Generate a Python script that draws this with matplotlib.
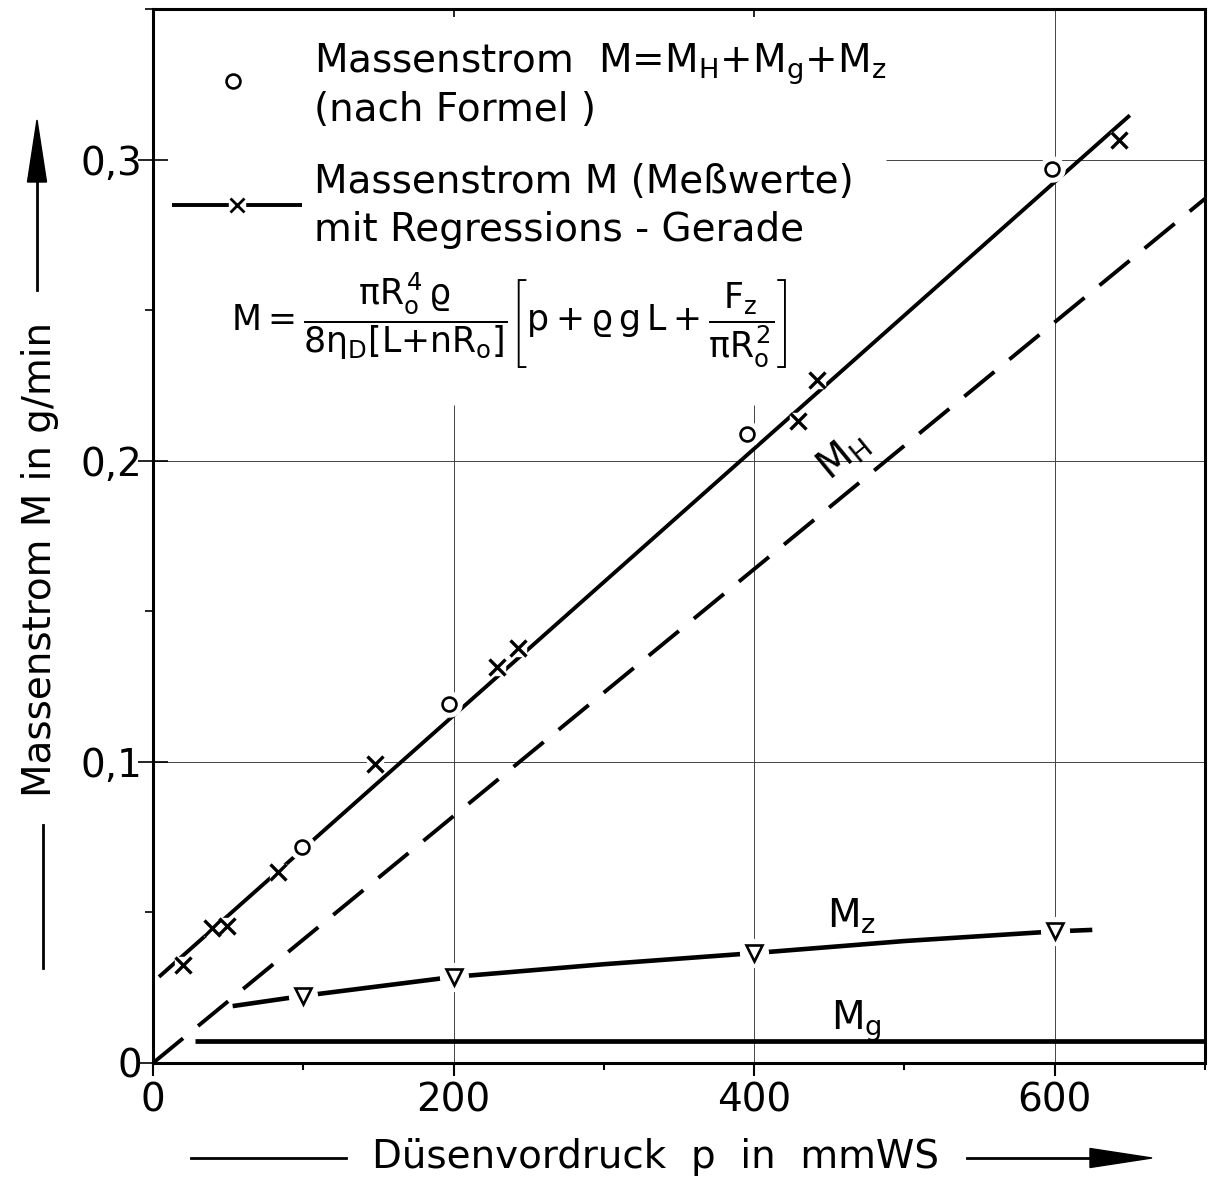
import matplotlib
matplotlib.use('Agg')
import matplotlib.pyplot as plt
from matplotlib.patches import Polygon
from matplotlib.ticker import MultipleLocator

plt.rcParams['font.family'] = ['DejaVu Sans']
plt.rcParams['mathtext.fontset'] = 'custom'
plt.rcParams['mathtext.rm'] = 'DejaVu Sans'
plt.rcParams['mathtext.it'] = 'DejaVu Sans'
plt.rcParams['mathtext.bf'] = 'DejaVu Sans'

# ---------------- data ----------------
meas_x = [20, 39, 49, 83, 148, 229, 243, 429, 442, 643]
meas_y = [0.0326, 0.0449, 0.0455, 0.0635, 0.0993, 0.1316, 0.1379, 0.2133, 0.2269, 0.3066]
formula_x = [99, 197, 395, 598]
formula_y = [0.0718, 0.1193, 0.2090, 0.2970]
regr_x = [4, 650]
regr_y = [0.0286, 0.3147]
mh_x = [0, 700]
mh_y = [0.0, 0.287]
mz_x = [100, 200, 400, 600]
mz_y = [0.0223, 0.0286, 0.0365, 0.0437]
mz_curve_x = [53, 100, 200, 300, 400, 500, 600]
mz_curve_y = [0.0189, 0.0223, 0.0286, 0.0328, 0.0365, 0.0405, 0.0437]
mz_ext_x = [600, 625]
mz_ext_y = [0.0437, 0.0442]
mg_x = [28, 700]
mg_y = [0.0073, 0.0073]

xticks = [0, 200, 400, 600]
xtick_labels = ['0', '200', '400', '600']
yticks = [0, 0.1, 0.2, 0.3]
ytick_labels = ['0', '0,1', '0,2', '0,3']

W, H = 1226, 1183
fig = plt.figure(figsize=(W / 100, H / 100), dpi=100)
ax = fig.add_axes([153 / W, 1 - 1063 / H, (1205 - 153) / W, (1063 - 9) / H])
ax.set_xlim(0, 700)
ax.set_ylim(0, 0.35)

FS = 28
lw_line = 2.8

# grid lines (partly interrupted like in the original)
gcol = '#444444'
ax.vlines([200, 400], 0, 0.2186, color=gcol, lw=0.7, zorder=1)
ax.vlines([600], 0, 0.35, color=gcol, lw=0.7, zorder=1)
ax.hlines([0.1, 0.2], 0, 700, color=gcol, lw=0.7, zorder=1)
ax.hlines([0.3], 488, 700, color=gcol, lw=0.7, zorder=1)

# regression line with measurements
ax.plot(regr_x, regr_y, color='black', lw=lw_line, zorder=2, solid_capstyle='butt')
# M_H dashed
ax.plot(mh_x, mh_y, color='black', lw=lw_line, dashes=(10, 5), zorder=2)
# M_z curve
ax.plot(mz_curve_x, mz_curve_y, color='black', lw=lw_line + 0.5, zorder=2, solid_capstyle='butt')
ax.plot(mz_ext_x, mz_ext_y, color='black', lw=lw_line + 0.5, zorder=2, solid_capstyle='butt')
# M_g
ax.plot(mg_x, mg_y, color='black', lw=3.4, zorder=2, solid_capstyle='butt')

# white halos to break lines around markers
ax.plot(meas_x, meas_y, ls='none', marker='s', ms=12, mfc='white', mec='white', zorder=3)
ax.plot(formula_x, formula_y, ls='none', marker='o', ms=18, mfc='white', mec='white', zorder=3)
ax.plot(mz_x, mz_y, ls='none', marker='o', ms=20, mfc='white', mec='white', zorder=3)
# markers
ax.plot(meas_x, meas_y, ls='none', marker='x', ms=11, mew=2.4, color='black', zorder=4)
ax.plot(formula_x, formula_y, ls='none', marker='o', ms=10, mew=1.9, mfc='white', mec='black', zorder=4)
ax.plot(mz_x, mz_y, ls='none', marker='v', ms=12, mew=1.9, mfc='white', mec='black', zorder=4)

# curve labels
ax.text(459, 0.2015, r'$M_H$', fontsize=FS, rotation=39.5, ha='center', va='center',
        rotation_mode='anchor', zorder=5)
ax.text(465, 0.0449, r'$M_z$', fontsize=FS, ha='center', va='baseline', zorder=5)
ax.text(468, 0.0110, r'$M_g$', fontsize=FS, ha='center', va='baseline', zorder=5)

# legend (drawn inside the plot like the original)
ax.plot([53], [0.326], ls='none', marker='o', ms=10, mew=1.9, mfc='white', mec='black', zorder=4)
ax.text(107, 0.3316, r'Massenstrom  M=M$_H$+M$_g$+M$_z$', fontsize=FS, ha='left', va='center')
ax.text(107, 0.3166, '(nach Formel )', fontsize=FS, ha='left', va='center')
ax.plot([12.7, 99.3], [0.285, 0.285], color='black', lw=lw_line, zorder=2, solid_capstyle='butt')
ax.plot([56], [0.285], ls='none', marker='s', ms=11, mfc='white', mec='white', zorder=3)
ax.plot([56], [0.285], ls='none', marker='x', ms=10, mew=2.0, color='black', zorder=4)
ax.text(107, 0.2924, 'Massenstrom M (Meßwerte)', fontsize=FS, ha='left', va='center')
ax.text(107, 0.2767, 'mit Regressions - Gerade', fontsize=FS, ha='left', va='center')

ax.text(237, 0.2465,
        r'$M{=}\dfrac{\pi R_o^4\,\varrho}{8\eta_D[L{+}nR_o]}\left[p+\varrho\,g\,L+\dfrac{F_z}{\pi R_o^2}\right]$',
        fontsize=25, ha='center', va='center')

# spines & ticks
for s in ax.spines.values():
    s.set_linewidth(2.2)
ax.set_xticks(xticks)
ax.set_xticklabels(xtick_labels, fontsize=FS)
ax.set_yticks(yticks)
ax.set_yticklabels(ytick_labels, fontsize=FS)
ax.xaxis.set_minor_locator(MultipleLocator(100))
ax.yaxis.set_minor_locator(MultipleLocator(0.05))
ax.tick_params(axis='x', which='major', direction='out', length=9, width=1.5, pad=4)
ax.tick_params(axis='x', which='minor', direction='out', length=5, width=1.5)
ax.tick_params(axis='y', which='major', direction='inout', length=21, width=1.2, pad=-3)
ax.tick_params(axis='y', which='minor', direction='out', length=6, width=1.2)
sec = ax.secondary_xaxis('top')
sec.set_xticks([200, 400])
sec.set_xticklabels([])
sec.tick_params(direction='in', length=6, width=1.2)
sec.spines['top'].set_visible(False)

# axis labels with arrows (figure overlay in pixel coordinates)
ov = fig.add_axes([0, 0, 1, 1], zorder=-1)
ov.set_xlim(0, W)
ov.set_ylim(H, 0)
ov.axis('off')
# y label
ov.plot([37, 37], [290, 175], color='black', lw=2.0)
ov.add_patch(Polygon([[27.5, 182], [46.5, 182], [37, 120]], closed=True, color='black'))
ov.plot([43, 43], [825, 968], color='black', lw=2.0)
ov.text(40, 559, 'Massenstrom M in g/min', rotation=90, fontsize=FS, ha='center', va='center')
# x label
ov.plot([191, 346], [1158, 1158], color='black', lw=2.0)
ov.text(655, 1157, 'Düsenvordruck  p  in  mmWS', fontsize=FS, ha='center', va='center')
ov.plot([967, 1095], [1158, 1158], color='black', lw=2.0)
ov.add_patch(Polygon([[1090, 1148.5], [1090, 1167.5], [1152, 1158]], closed=True, color='black'))

fig.savefig('out.png', dpi=100, facecolor='white')
